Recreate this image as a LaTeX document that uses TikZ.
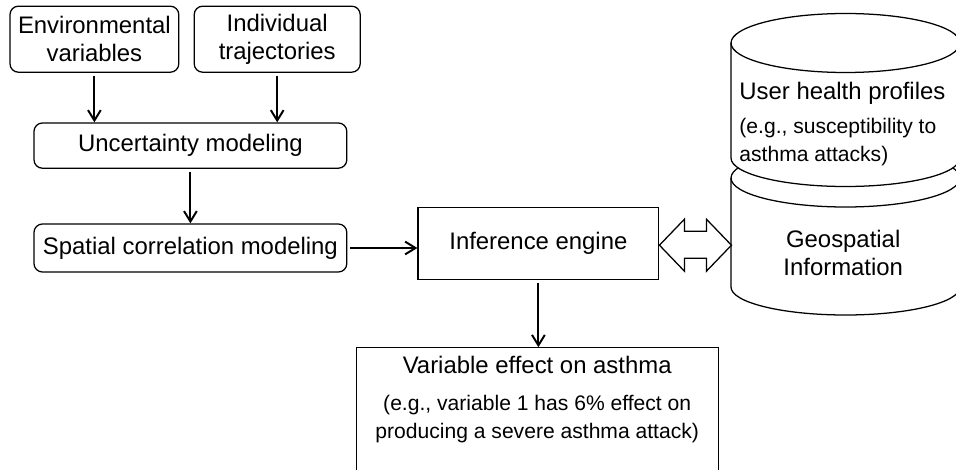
\documentclass[tikz,border=0pt]{standalone}
\usepackage{fontspec}
\setmainfont{Liberation Sans}
\usetikzlibrary{positioning,arrows.meta,calc}
\newcommand\notesize{\fontsize{15}{17.7}\selectfont}

\begin{document}
\begin{tikzpicture}[
  font=\fontsize{17}{20}\selectfont,
  rbox/.style={rectangle, rounded corners=6pt, draw, line width=0.9pt, align=center, inner sep=2pt},
  sbox/.style={rectangle, draw, line width=0.9pt, align=center},
  store/.style={line width=0.9pt, fill=white},
  arr/.style={-{Straight Barb[length=2.6mm, width=3.2mm]}, line width=1.4pt, shorten <=2pt},
]
\useasboundingbox (0,0) rectangle (23.9,-11.75);
\clip (0,0) rectangle (23.9,-11.75);

%% INPUTS
\node[rbox, minimum width=4.22cm, minimum height=1.65cm] (env) at (2.36,-0.98) {Environmental\\variables};
\node[rbox, minimum width=4.15cm, minimum height=1.65cm] (ind) at (6.93,-0.98) {Individual\\trajectories};

%% MODELING CHAIN
\node[rbox, minimum width=7.82cm, minimum height=1.13cm] (unc)  at (4.76,-3.64) {Uncertainty modeling};
\node[rbox, minimum width=7.82cm, minimum height=1.2cm]  (spat) at (4.76,-6.2)  {Spatial correlation modeling};

\draw[arr] (env.south) -- (env.south |- unc.north);
\draw[arr] (ind.south) -- (ind.south |- unc.north);
\draw[arr] (unc.south) -- (spat.north);

%% INFERENCE
\node[sbox, minimum width=6.02cm, minimum height=1.8cm] (infer) at (13.46,-6.08) {Inference engine};
\draw[arr] (spat.east) -- (spat.east -| infer.west);

\node[sbox, anchor=north, minimum width=9.05cm, inner ysep=6pt, text depth=3cm] (effect) at (13.43,-8.68)
  {Variable effect on asthma\\[6pt]\notesize (e.g., variable 1 has 6\% effect on\\\notesize producing a severe asthma attack)};
\draw[arr] (infer.south) -- (infer.south |- effect.north);

%% DATA STORES
\draw[store] (18.275,-4.45) -- (18.275,-7.175) arc[start angle=180, end angle=360, x radius=2.8625, y radius=0.7]
  -- (24.0,-4.45) arc[start angle=0, end angle=180, x radius=2.8625, y radius=0.725] -- cycle;
\draw[line width=0.9pt] (18.275,-4.45) arc[start angle=180, end angle=360, x radius=2.8625, y radius=0.725];

\draw[store] (18.275,-1.075) -- (18.275,-3.95) arc[start angle=180, end angle=360, x radius=2.8625, y radius=0.7125]
  -- (24.0,-1.075) arc[start angle=0, end angle=180, x radius=2.8625, y radius=0.7375] -- cycle;
\draw[line width=0.9pt] (18.275,-1.075) arc[start angle=180, end angle=360, x radius=2.8625, y radius=0.7375];

\node[align=left] (user) at (21.06,-3.1)
  {User health profiles\\[4pt]\notesize (e.g., susceptibility to\\\notesize asthma attacks)};
\node[align=center] (geo) at (21.08,-6.33) {Geospatial\\Information};

%% two-way link
\draw[store] ($(infer.east)+(0,-0.05)$) -- ++(0.625,0.65) -- ++(0,-0.3) -- ++(0.55,0) -- ++(0,0.3)
  -- ++(0.625,-0.65) -- ++(-0.625,-0.65) -- ++(0,0.325) -- ++(-0.55,0) -- ++(0,-0.325) -- cycle;

\end{tikzpicture}
\end{document}
